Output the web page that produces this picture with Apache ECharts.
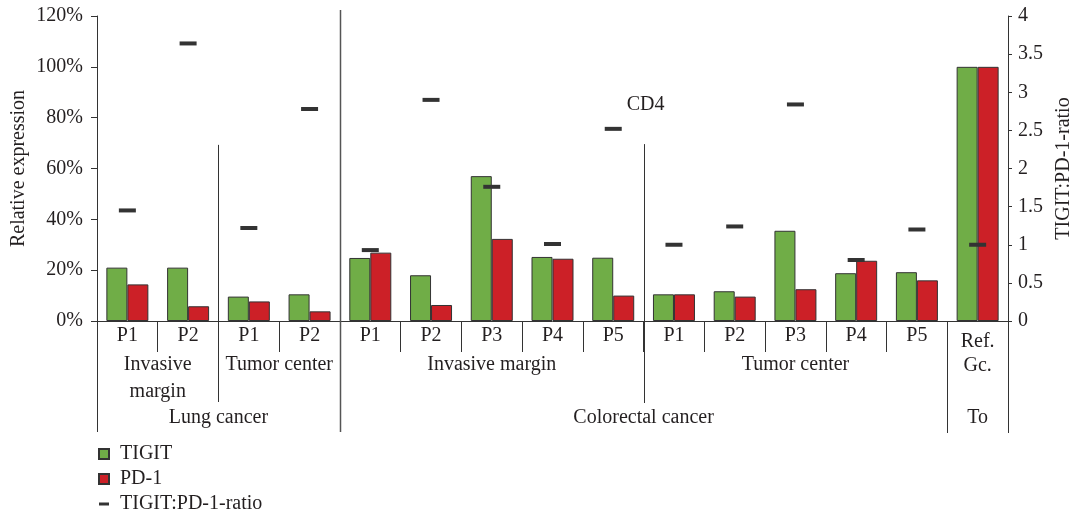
<!DOCTYPE html>
<html>
<head>
<meta charset="utf-8">
<script src="https://cdn.jsdelivr.net/npm/echarts@6/dist/echarts.min.js"></script>
<style>
  html, body { margin: 0; padding: 0; background: #fff; }
  #chart { width: 1075px; height: 509px; }
</style>
</head>
<body>
<div id="chart"></div>
<script>
// Patients per cohort (bottom category row)
const categories = ['P1', 'P2', 'P1', 'P2', 'P1', 'P2', 'P3', 'P4', 'P5', 'P1', 'P2', 'P3', 'P4', 'P5', 'Ref.\nGc.'];
// Relative expression (%) of TIGIT and PD-1 in CD4 cells
const tigit = [21.0, 21.0, 9.6, 10.5, 24.8, 18.0, 57.0, 25.2, 24.9, 10.5, 11.7, 35.5, 18.8, 19.2, 100];
const pd1   = [14.4, 5.8, 7.7, 3.8, 26.9, 6.3, 32.3, 24.5, 10.0, 10.5, 9.6, 12.5, 23.7, 16.0, 100];
// TIGIT:PD-1 ratio (right axis)
const ratio = [1.45, 3.64, 1.22, 2.78, 0.93, 2.90, 1.76, 1.01, 2.52, 1.00, 1.24, 2.84, 0.80, 1.20, 1.00];
// Tick labels
const leftTicks = ['0%', '20%', '40%', '60%', '80%', '100%', '120%'];
const rightTicks = ['0', '0.5', '1', '1.5', '2', '2.5', '3', '3.5', '4'];
// Grouping rows under the axis: [label, first category, end category (exclusive)]
const sites = [['Invasive\nmargin', 0, 2], ['Tumor center', 2, 4], ['Invasive margin', 4, 9], ['Tumor center', 9, 14]];
const cancers = [['Lung cancer', 0, 4], ['Colorectal cancer', 4, 14], ['To', 14, 15]];

const FONT = 'Liberation Serif';
const TXT = '#231f20';
const GREEN = '#70ad47';
const RED = '#cc2027';
const DASH = '#333333';

const chart = echarts.init(document.getElementById('chart'), null, { renderer: 'canvas' });

const option = {
  animation: false,
  textStyle: { fontFamily: FONT, color: TXT },
  grid: { left: 97, right: 67, top: 16, bottom: 188, containLabel: false, outerBoundsMode: 'none' },
  legend: {
    orient: 'vertical', left: 98, top: 444, height: 100, padding: 0,
    itemWidth: 10, itemHeight: 10, itemGap: 5,
    textStyle: { fontFamily: FONT, fontSize: 20, color: TXT, lineHeight: 20, padding: [0, 0, 0, 6] },
    data: [
      { name: 'TIGIT', icon: 'rect' },
      { name: 'PD-1', icon: 'rect' },
      { name: 'TIGIT:PD-1-ratio', icon: 'path://M0,0M10,10M0,3.5L10,3.5L10,6.5L0,6.5Z' }
    ]
  },
  xAxis: {
    type: 'category',
    data: categories.map(c => c.indexOf('\n') >= 0
      ? { value: c, textStyle: { lineHeight: 24, padding: [4, 0, 0, 0] } }
      : c),
    axisLine: { lineStyle: { color: DASH, width: 1 } },
    axisTick: { show: true, length: 31, lineStyle: { color: DASH, width: 1 } },
    axisLabel: { interval: 0, margin: 5, fontSize: 20, color: TXT, fontFamily: FONT, lineHeight: 20 },
    splitLine: { show: false }
  },
  yAxis: [
    {
      type: 'value', min: 0, max: 120, interval: 20,
      name: 'Relative expression', nameLocation: 'middle', nameRotate: 90, nameGap: 68,
      nameMoveOverlap: false,
      nameTextStyle: { fontFamily: FONT, fontSize: 20, color: TXT },
      axisLine: { show: true, lineStyle: { color: DASH, width: 1 } },
      axisTick: { show: true, inside: false, length: 6, lineStyle: { color: DASH } },
      axisLabel: { margin: 14, fontSize: 20, color: TXT, fontFamily: FONT,
        formatter: v => leftTicks[Math.round(v / 20)] },
      splitLine: { show: false }
    },
    {
      type: 'value', min: 0, max: 4, interval: 0.5, position: 'right',
      name: 'TIGIT:PD-1-ratio', nameLocation: 'middle', nameRotate: 90, nameGap: 44,
      nameTextStyle: { fontFamily: FONT, fontSize: 20, color: TXT },
      axisLine: { show: true, lineStyle: { color: DASH, width: 1 } },
      axisTick: { show: true, inside: false, length: 4, lineStyle: { color: DASH } },
      axisLabel: { margin: 10, fontSize: 20, color: TXT, fontFamily: FONT,
        formatter: v => rightTicks[Math.round(v / 0.5)] },
      splitLine: { show: false }
    }
  ],
  series: [
    {
      name: 'TIGIT', type: 'bar', data: tigit, barWidth: 21, barGap: '0%',
      itemStyle: { color: GREEN, borderColor: DASH, borderWidth: 1 }
    },
    {
      name: 'PD-1', type: 'bar', data: pd1, barWidth: 21, barGap: '0%',
      itemStyle: { color: RED, borderColor: DASH, borderWidth: 1 }
    },
    {
      name: 'TIGIT:PD-1-ratio', type: 'scatter', yAxisIndex: 1, data: ratio,
      symbol: 'rect', symbolSize: [17, 4],
      itemStyle: { color: DASH, opacity: 1 }, z: 5
    }
  ]
};

chart.setOption(option);

// Separator lines and group labels, placed from the axis scales
const c0 = chart.convertToPixel({ xAxisIndex: 0 }, 0);
const c1 = chart.convertToPixel({ xAxisIndex: 0 }, 1);
const cw = c1 - c0;
const bx = b => c0 - cw / 2 + b * cw;
const base = chart.convertToPixel({ yAxisIndex: 0 }, 0);
const yv = v => chart.convertToPixel({ yAxisIndex: 0 }, v);
const plotTop = yv(120);

const lines = [
  { b: 0, y1: base, y2: base + 111, c: DASH, w: 1 },
  { b: 2, y1: yv(69.3), y2: base + 81, c: DASH, w: 1 },
  { b: 4, y1: plotTop - 6, y2: base + 111, c: '#555', w: 1.5 },
  { b: 9, y1: yv(69.6), y2: base + 82, c: DASH, w: 1 },
  { b: 14, y1: base, y2: base + 112, c: DASH, w: 1 },
  { b: 15, y1: base, y2: base + 112, c: DASH, w: 1 }
];

const graphics = [];
lines.forEach(l => {
  const x = Math.round(bx(l.b)) + 0.5;
  graphics.push({
    type: 'line', silent: true, z: 10,
    shape: { x1: x, y1: l.y1, x2: x, y2: l.y2 },
    style: { stroke: l.c, lineWidth: l.w }
  });
});
sites.forEach(s => {
  graphics.push({
    type: 'text', silent: true, z: 10,
    x: (bx(s[1]) + bx(s[2])) / 2, y: base + 30.5,
    style: { text: s[0], fill: TXT, font: '20px "' + FONT + '"', lineHeight: 27,
      textAlign: 'center', textVerticalAlign: 'top' }
  });
});
cancers.forEach(s => {
  graphics.push({
    type: 'text', silent: true, z: 10,
    x: (bx(s[1]) + bx(s[2])) / 2, y: base + 97,
    style: { text: s[0], fill: TXT, font: '20px "' + FONT + '"',
      textAlign: 'center', textVerticalAlign: 'middle' }
  });
});
graphics.push({
  type: 'text', silent: true, z: 10,
  x: bx(9) + 2, y: yv(85),
  style: { text: 'CD4', fill: TXT, font: '20px "' + FONT + '"',
    textAlign: 'center', textVerticalAlign: 'middle' }
});

chart.setOption({ graphic: graphics });
</script>
</body>
</html>
